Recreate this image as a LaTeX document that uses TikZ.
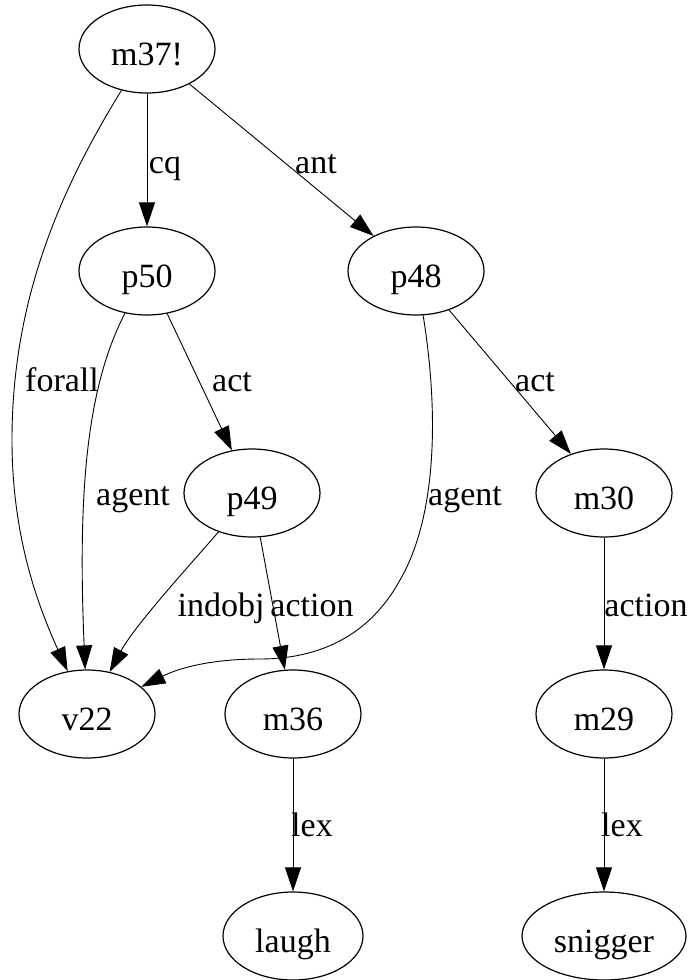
\documentclass[tikz,border=0pt]{standalone}
\usepackage{fontspec}
\setmainfont{Liberation Serif}
\usetikzlibrary{arrows.meta,shapes.geometric}
\begin{document}
\begin{tikzpicture}[x=1pt,y=-1pt,
  gnode/.style={ellipse, draw, line width=1.2pt, minimum width=136pt, minimum height=88pt,
    inner sep=0pt, font=\fontsize{34}{40}\selectfont, text height=32pt, text depth=0pt},
  elabel/.style={inner sep=0pt, font=\fontsize{34}{40}\selectfont, text height=16pt, text depth=0pt},
  arc/.style={-{Triangle[length=24pt,width=16pt]}, line width=0.9pt}]
\useasboundingbox (0,0) rectangle (691,980);

% nodes, rank by rank
\node[gnode] (m37) at (147,49) {m37!};
\node[gnode] (p50) at (147,271) {p50};
\node[gnode] (p48) at (416,271) {p48};
\node[gnode] (p49) at (252,493) {p49};
\node[gnode] (m30) at (604,493) {m30};
\node[gnode] (v22) at (87,714) {v22};
\node[gnode] (m36) at (293,714) {m36};
\node[gnode] (m29) at (604,714) {m29};
\node[gnode, minimum width=140pt] (laugh) at (293,936) {laugh};
\node[gnode, minimum width=164pt] (snigger) at (604,936) {snigger};

% arcs
\draw[arc] (m37) -- (p50);
\draw[arc] (m37) -- (p48);
\draw[arc] (m37) .. controls (60,190) and (12,300) .. (12,440)
                 .. controls (12,540) and (40,610) .. (v22);
\draw[arc] (p50) .. controls (85,390) and (78,500) .. (v22);
\draw[arc] (p50) -- (p49);
\draw[arc] (p49) .. controls (190,565) and (135,625) .. (v22);
\draw[arc] (p49) -- (m36);
\draw[arc] (p48) .. controls (440,420) and (435,520) .. (400,580)
                 .. controls (370,635) and (320,659) .. (260,659)
                 .. controls (205,659) and (175,670) .. (v22);
\draw[arc] (p48) -- (m30);
\draw[arc] (m30) -- (m29);
\draw[arc] (m36) -- (laugh);
\draw[arc] (m29) -- (snigger);

% arc labels
\node[elabel] (lcq) at (165,165) {cq};
\node[elabel] (lant) at (316,165) {ant};
\node[elabel] (lforall) at (62,383) {forall};
\node[elabel] (lact1) at (232,383) {act};
\node[elabel] (lact2) at (535,383) {act};
\node[elabel] (lagent1) at (133,497) {agent};
\node[elabel] (lagent2) at (465,497) {agent};
\node[elabel] (lindobj) at (221,608) {indobj};
\node[elabel] (laction1) at (312,608) {action};
\node[elabel] (laction2) at (646,608) {action};
\node[elabel] (llex1) at (312,828) {lex};
\node[elabel] (llex2) at (622,828) {lex};
\end{tikzpicture}
\end{document}
